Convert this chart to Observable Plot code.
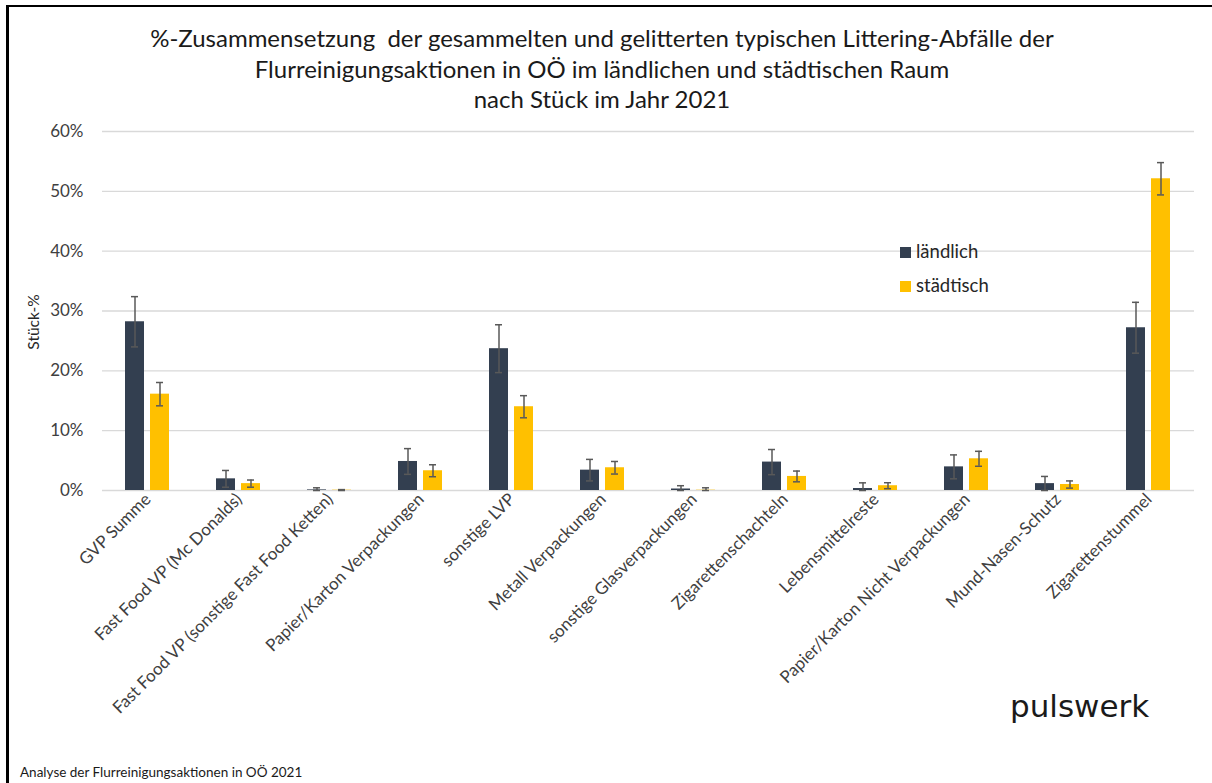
<!DOCTYPE html>
<html>
<head>
<meta charset="utf-8">
<script src="https://cdn.jsdelivr.net/npm/d3@7"></script>
<script src="https://cdn.jsdelivr.net/npm/@observablehq/plot@0.6"></script>
<style>
  html, body { margin: 0; padding: 0; background: #fff; overflow: hidden; }
  #wrap { position: relative; width: 1212px; height: 783px; font-family: Lato, "Open Sans", sans-serif; }
  #frame { position: absolute; left: 6px; top: 5px; width: 1300px; height: 900px; border-left: 3px solid #000; border-top: 2px solid #000; }
  #title { position: absolute; left: 0; top: 23px; width: 1204px; text-align: center; font-size: 24px; line-height: 30.5px; color: #1a1a1a; }
  #ylabel { position: absolute; left: 33px; top: 322px; transform: translate(-50%, -50%) rotate(-90deg); font-size: 15.5px; color: #262626; white-space: nowrap; }
  .leg { position: absolute; left: 900px; font-size: 18.5px; color: #262626; white-space: nowrap; }
  .leg span { display: inline-block; width: 11px; height: 11px; margin-right: 5px; vertical-align: 0px; }
  #logo { position: absolute; left: 1010px; top: 688px; font-family: "DejaVu Sans", sans-serif; font-size: 31px; color: #1a1a1a; }
  #footer { position: absolute; left: 20px; top: 764px; font-size: 13.5px; color: #1a1a1a; white-space: nowrap; }
  #chart { position: absolute; left: 0; top: 0; }
</style>
</head>
<body>
<div id="wrap">
  <div id="chart"></div>
  <div id="frame"></div>
  <div id="title">%-Zusammensetzung&nbsp; der gesammelten und gelitterten typischen Littering-Abfälle der<br>Flurreinigungsaktionen in OÖ im ländlichen und städtischen Raum<br>nach Stück im Jahr 2021</div>
  <div id="ylabel">Stück-%</div>
  <div class="leg" style="top:240px"><span style="background:#333F50"></span>ländlich</div>
  <div class="leg" style="top:274px"><span style="background:#FFC000"></span>städtisch</div>
  <div id="logo">pulswerk</div>
  <div id="footer">Analyse der Flurreinigungsaktionen in OÖ 2021</div>
</div>
<script>
const categories = [
  "GVP Summe",
  "Fast Food VP (Mc Donalds)",
  "Fast Food VP (sonstige Fast Food Ketten)",
  "Papier/Karton Verpackungen",
  "sonstige LVP",
  "Metall Verpackungen",
  "sonstige Glasverpackungen",
  "Zigarettenschachteln",
  "Lebensmittelreste",
  "Papier/Karton Nicht Verpackungen",
  "Mund-Nasen-Schutz",
  "Zigarettenstummel"
];
const seriesNames = ["ländlich", "städtisch"];
const laendlich     = [28.2, 1.95, 0.1, 4.85, 23.7, 3.4, 0.25, 4.75, 0.33, 3.95, 1.15, 27.2];
const laendlichErr  = [4.2, 1.4, 0.35, 2.15, 4.0, 1.8, 0.55, 2.1, 0.95, 2.0, 1.2, 4.25];
const staedtisch    = [16.1, 1.15, 0.05, 3.3, 14.0, 3.8, 0.05, 2.35, 0.8, 5.3, 1.0, 52.1];
const staedtischErr = [1.95, 0.6, 0.1, 1.0, 1.85, 1.05, 0.4, 0.9, 0.5, 1.25, 0.6, 2.7];
const yTicks = [0, 10, 20, 30, 40, 50, 60];
const colors = ["#333F50", "#FFC000"];

const rows = [];
categories.forEach((c, i) => {
  rows.push({cat: c, series: seriesNames[0], value: laendlich[i], lo: Math.max(0, laendlich[i] - laendlichErr[i]), hi: laendlich[i] + laendlichErr[i]});
  rows.push({cat: c, series: seriesNames[1], value: staedtisch[i], lo: Math.max(0, staedtisch[i] - staedtischErr[i]), hi: staedtisch[i] + staedtischErr[i]});
});

const chart = Plot.plot({
  width: 1212,
  height: 783,
  marginTop: 131,
  marginBottom: 293,
  marginLeft: 101,
  marginRight: 17,
  style: {fontFamily: "Lato, 'Open Sans', sans-serif", fontSize: "17px", color: "#404040", background: "transparent"},
  fx: {domain: categories, padding: 0, label: null, tickRotate: -45, tickSize: 0, tickPadding: 6},
  x: {domain: seriesNames, axis: null, paddingInner: 0.23, paddingOuter: 0.87},
  y: {domain: [0, 60], ticks: yTicks, tickFormat: d => d + "%", tickSize: 0, tickPadding: 19, label: null},
  color: {domain: seriesNames, range: colors},
  marks: [
    Plot.ruleY(yTicks, {stroke: "#d9d9d9", strokeWidth: 1.3, strokeOpacity: 1}),
    Plot.barY(rows, {fx: "cat", x: "series", y: "value", fill: "series"}),
    Plot.ruleX(rows, {fx: "cat", x: "series", y1: "lo", y2: "hi", stroke: "#595959", strokeWidth: 1.5}),
    Plot.tickY(rows, {fx: "cat", x: "series", y: "hi", stroke: "#595959", strokeWidth: 1.5, insetLeft: 6, insetRight: 6}),
    Plot.tickY(rows, {fx: "cat", x: "series", y: "lo", stroke: "#595959", strokeWidth: 1.5, insetLeft: 6, insetRight: 6})
  ]
});
document.getElementById("chart").appendChild(chart);
</script>
</body>
</html>
